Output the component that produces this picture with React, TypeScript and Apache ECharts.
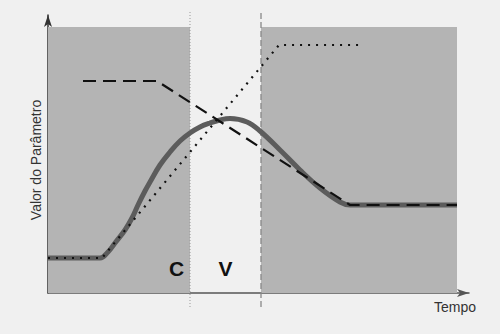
import React, { useEffect, useRef } from "react";
import * as echarts from "echarts";

// Axis extents (time units on x, parameter value on y)
const X_MAX = 421;
const Y_MAX = 278;

// Shaded phases (start, end) on the time axis and their height
const grayZones: [number, number][] = [
  [0, 142],
  [213, 409],
];
const zoneTop = 266;

// Phase boundaries (C | V | ...)
const phaseBounds: number[] = [142, 213];
const boundLow = -14;
const boundHigh = 283;

// Thick gray curve
const curveValues: [number, number][] = [
  [0, 35], [52, 35], [60, 41], [67, 50], [77, 63], [84, 75], [90, 88],
  [97, 102], [102, 111], [112, 128], [122, 141], [132, 152], [142, 160],
  [152, 166], [162, 170], [172, 173], [182, 174.5], [199, 171], [212, 162],
  [232, 143], [252, 123], [272, 105], [292, 91], [302, 88], [409, 88],
];

// Dotted line
const dottedValues: [number, number][] = [
  [0, 35], [54, 35], [231, 248], [315, 248],
];

// Dashed line
const dashedValues: [number, number][] = [
  [35, 212], [109, 212], [302, 88], [409, 88],
];

const phaseLabels = ["C", "V"];
const xName = "Tempo";
const yName = "Valor do Parâmetro";

export default function App() {
  const ref = useRef<HTMLDivElement>(null);
  useEffect(() => {
    document.body.style.margin = "0";
    if (!ref.current) return;
    const chart = echarts.init(ref.current, null, { renderer: "svg" });
    const font = "Liberation Sans, Arial, sans-serif";
    chart.setOption({
      animation: false,
      backgroundColor: "#f0f0f0",
      grid: { left: 48, right: 31, top: 15, bottom: 41, outerBoundsMode: "none" },
      xAxis: {
        type: "value",
        min: 0,
        max: X_MAX,
        axisLine: {
          show: true,
          onZero: false,
          symbol: ["none", "arrow"],
          symbolSize: [6, 12],
          lineStyle: { color: "#555", width: 1.5 },
        },
        axisTick: { show: false },
        axisLabel: { show: false },
        splitLine: { show: false },
      },
      yAxis: {
        type: "value",
        min: 0,
        max: Y_MAX,
        axisLine: {
          show: true,
          onZero: false,
          symbol: ["none", "arrow"],
          symbolSize: [6, 12],
          lineStyle: { color: "#333", width: 1.5 },
        },
        axisTick: { show: false },
        axisLabel: { show: false },
        splitLine: { show: false },
      },
      series: [
        {
          type: "line",
          data: [],
          z: 1,
          markArea: {
            silent: true,
            itemStyle: { color: "#b4b4b4" },
            data: grayZones.map(([a, b]) => [{ coord: [a, 0] }, { coord: [b, zoneTop] }]),
          },
        },
        {
          type: "line",
          z: 2,
          clip: false,
          showSymbol: false,
          data: [
            [phaseBounds[0], boundLow],
            [phaseBounds[0], boundHigh],
          ],
          lineStyle: { color: "#999", width: 1, type: [1, 2] },
        },
        {
          type: "line",
          z: 2,
          clip: false,
          showSymbol: false,
          data: [
            [phaseBounds[1], boundLow],
            [phaseBounds[1], boundHigh],
          ],
          lineStyle: { color: "#888", width: 1.3, type: [6, 3] },
        },
        {
          type: "line",
          z: 3,
          smooth: 0.4,
          showSymbol: false,
          data: curveValues,
          lineStyle: { color: "#5c5c5c", width: 5 },
        },
        {
          type: "line",
          z: 4,
          showSymbol: false,
          data: dottedValues,
          lineStyle: { color: "#111", width: 2.2, type: [2, 6] },
        },
        {
          type: "line",
          z: 5,
          showSymbol: false,
          data: dashedValues,
          lineStyle: { color: "#111", width: 2.2, type: [13, 7] },
        },
      ],
      graphic: [
        {
          type: "text",
          x: 176.5,
          y: 268,
          z: 10,
          style: {
            text: phaseLabels[0],
            font: `bold 21px ${font}`,
            fill: "#111",
            align: "center",
            verticalAlign: "middle",
          },
        },
        {
          type: "text",
          x: 225.5,
          y: 268,
          z: 10,
          style: {
            text: phaseLabels[1],
            font: `bold 21px ${font}`,
            fill: "#111",
            align: "center",
            verticalAlign: "middle",
          },
        },
        {
          type: "text",
          x: 476,
          y: 307,
          z: 10,
          style: {
            text: xName,
            font: `14px ${font}`,
            fill: "#333",
            align: "right",
            verticalAlign: "middle",
          },
        },
        {
          type: "text",
          x: 36,
          y: 160,
          rotation: Math.PI / 2,
          z: 10,
          style: {
            text: yName,
            font: `14px ${font}`,
            fill: "#333",
            align: "center",
            verticalAlign: "middle",
          },
        },
      ],
    });
    return () => chart.dispose();
  }, []);
  return <div ref={ref} style={{ width: 500, height: 334 }} />;
}
